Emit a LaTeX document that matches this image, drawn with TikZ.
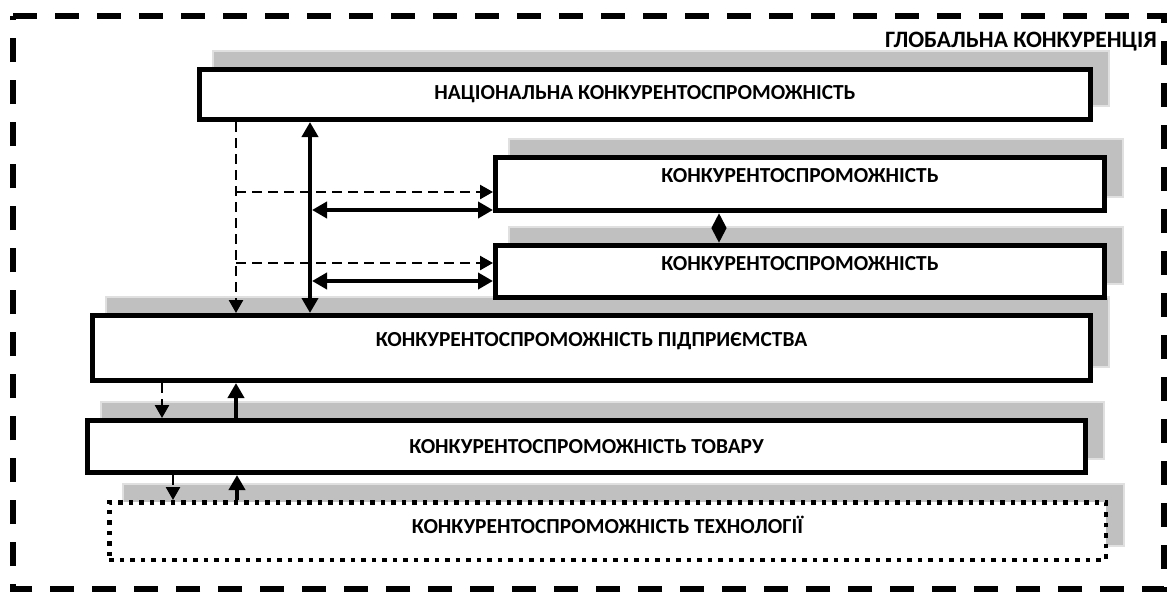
\documentclass[tikz,border=0pt]{standalone}
\usepackage{fontspec}
\setmainfont{Carlito}
\usetikzlibrary{arrows.meta,backgrounds}
\definecolor{shc}{HTML}{C0C0C0}
\definecolor{shline}{HTML}{E0E0E0}
\begin{document}
\begin{tikzpicture}[x=1pt,y=-1pt,
  box/.style={draw=black, line width=5pt, fill=white, inner sep=0pt, outer sep=2.5pt},
  dotbox/.style={draw=black, line width=4.5pt, dash pattern=on 4.5pt off 6pt, fill=white, inner sep=0pt, outer sep=2.25pt},
  shadowbox/.style={fill=shc, draw=shline, line width=1.2pt},
  lbl/.style={font=\bfseries\fontsize{21.4}{24}\selectfont, text height=13.5pt, text depth=0pt, inner sep=0pt},
  glbl/.style={font=\bfseries\fontsize{23.5}{26}\selectfont, inner sep=0pt},
  thk/.style={line width=4pt},
  dsh/.style={line width=2.5pt, dash pattern=on 10pt off 6pt},
  border/.style={line width=5.5pt, dash pattern=on 24pt off 18pt},
  tipT/.tip={Triangle[length=15pt,width=16pt]},
  tipS/.tip={Triangle[length=15pt,width=14pt]},
  tipD/.tip={Triangle[length=13pt,width=14pt]}
]
\path[use as bounding box] (0,0) rectangle (1171,592);

% outer dashed frame
\coordinate (fa) at (13,16);
\coordinate (fb) at (1164,16);
\coordinate (fc) at (1164,589);
\coordinate (fd) at (13,589);
\draw[border] (fa) -- (fb) -- (fc) -- (fd) -- cycle;
\node[glbl, anchor=base east] (glob) at (1157,47) {ГЛОБАЛЬНА КОНКУРЕНЦІЯ};

% boxes
\node[box, minimum width=891pt, minimum height=50pt] (nat) at (645,94.5) {};
\node[box, minimum width=609pt, minimum height=53pt] (b2) at (800,184) {};
\node[box, minimum width=609pt, minimum height=52pt] (b3) at (800,271.5) {};
\node[box, minimum width=998pt, minimum height=65pt] (ent) at (591.5,348) {};
\node[box, minimum width=998pt, minimum height=52pt] (tov) at (586.5,446.5) {};
\node[dotbox, minimum width=996.5pt, minimum height=57.5pt] (tech) at (607.5,531) {};

% shadows
\begin{scope}[on background layer]
\foreach \b in {nat,b2,b3,ent,tov,tech}{
  \draw[shadowbox] ([shift={(16,-16)}]\b.south west) rectangle ([shift={(16,-16)}]\b.north east);
}
\end{scope}

% labels
\node[lbl] (tnat) at ([yshift=1.5pt]nat.center) {НАЦІОНАЛЬНА КОНКУРЕНТОСПРОМОЖНІСТЬ};
\node[lbl] (tb2) at ([yshift=8pt]b2.center) {КОНКУРЕНТОСПРОМОЖНІСТЬ};
\node[lbl] (tb3) at ([yshift=7.5pt]b3.center) {КОНКУРЕНТОСПРОМОЖНІСТЬ};
\node[lbl] (tent) at ([yshift=8pt]ent.center) {КОНКУРЕНТОСПРОМОЖНІСТЬ ПІДПРИЄМСТВА};
\node[lbl] (ttov) at (tov.center) {КОНКУРЕНТОСПРОМОЖНІСТЬ ТОВАРУ};
\node[lbl] (ttech) at ([yshift=4pt]tech.center) {КОНКУРЕНТОСПРОМОЖНІСТЬ ТЕХНОЛОГІЇ};

% connector guides
\coordinate (xv) at (310,0);
\coordinate (xd) at (236,0);
\coordinate (y1) at (0,192);
\coordinate (y2) at (0,210);
\coordinate (y3) at (0,263);
\coordinate (y4) at (0,281);
\coordinate (xs) at (719,0);
\coordinate (xa) at (162,0);
\coordinate (xb) at (236,0);
\coordinate (xc) at (173,0);
\coordinate (xe) at (237,0);

% national <-> enterprise
\draw[thk, tipT-tipT] (nat.south -| xv) -- (ent.north -| xv);
\draw[dsh, -tipD] (nat.south -| xd) -- (ent.north -| xd);
\draw[dsh, -tipD] (xd |- y1) -- (b2.west |- y1);
\draw[dsh, -tipD] (xd |- y3) -- (b3.west |- y3);
\draw[thk, tipT-tipT] ([xshift=2pt]xv |- y2) -- (b2.west |- y2);
\draw[thk, tipT-tipT] ([xshift=2pt]xv |- y4) -- (b3.west |- y4);
\draw[thk, tipS-tipS] (b2.south -| xs) -- (b3.north -| xs);

% enterprise <-> product
\draw[dsh, -tipD] (ent.south -| xa) -- (tov.north -| xa);
\draw[thk, -tipT] (tov.north -| xb) -- (ent.south -| xb);
% product <-> technology
\draw[dsh, -tipD] (tov.south -| xc) -- (tech.north -| xc);
\draw[thk, -tipT] (tech.north -| xe) -- (tov.south -| xe);
\end{tikzpicture}
\end{document}
